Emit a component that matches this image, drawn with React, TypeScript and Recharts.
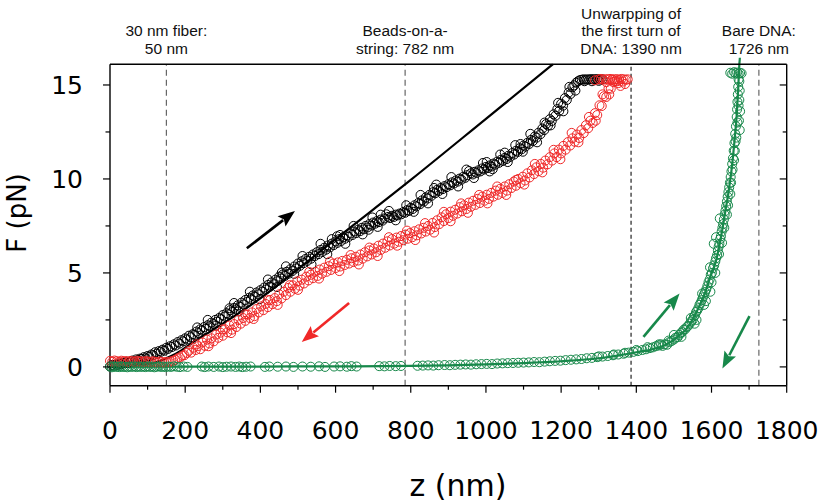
import React from 'react';
import { ComposedChart, Scatter, Line, XAxis, YAxis, ReferenceLine } from 'recharts';

// ---------- data ----------
const xTicks = [0, 100, 200, 300, 400, 500, 600, 700, 800, 900, 1000, 1100, 1200, 1300, 1400, 1500, 1600, 1700, 1800];
const yTicks = [0, 2.5, 5, 7.5, 10, 12.5, 15];

// extension (black circles)
const blackPts: [number, number][] = [
  [0,0.02],[5,0.1],[10,0.06],[15,0.12],[20,0.1],[25,0.18],[30,0.14],[35,0.22],[40,0.2],[45,0.28],[50,0.22],[55,0.3],[60,0.34],[65,0.28],[70,0.4],[75,0.36],[80,0.44],[85,0.42],[90,0.52],[95,0.46],
  [100,0.58],[105,0.54],[110,0.66],[115,0.62],[120,0.78],[125,0.7],[130,0.84],[135,0.8],[140,0.92],[145,0.86],[150,1.02],[155,0.96],[160,1.1],[165,1.06],[170,1.2],[175,1.14],[180,1.32],[185,1.24],[190,1.42],[195,1.36],
  [200,1.52],[205,1.46],[210,1.66],[215,1.58],[220,1.74],[225,1.7],[230,1.88],[232,2.1],[235,1.8],[240,2.0],[245,1.94],[250,2.12],[255,2.02],[260,2.22],[265,2.16],[270,2.36],[275,2.28],[280,2.5],[285,2.4],[290,2.6],[295,2.54],
  [300,2.76],[305,2.68],[310,2.86],[315,2.8],[318,3.12],[320,3.02],[325,2.92],[330,3.14],[335,3.06],[340,3.28],[345,3.2],[350,3.42],[355,3.32],[360,3.56],[365,3.46],[370,3.68],[375,3.6],[380,3.8],[385,3.74],[390,3.96],[395,3.86],
  [400,4.08],[405,4.0],[410,4.22],[415,4.12],[420,4.36],[425,4.26],[430,4.5],[435,4.4],[440,4.64],[445,4.56],[450,4.8],[455,4.7],[457,5.02],[460,4.92],[465,4.84],[470,5.06],[475,4.96],[480,5.2],[485,5.1],[490,5.34],[495,5.24],
  [500,5.5],[505,5.38],[510,5.62],[515,5.52],[520,5.74],[525,5.64],[530,5.86],[535,5.76],[540,5.98],[545,5.9],[550,6.1],[555,6.0],[560,6.22],[565,6.12],[570,6.34],[575,6.24],[580,6.46],[585,6.36],[590,6.56],[595,6.48],
  [600,6.68],[605,6.6],[610,6.8],[612,7.02],[615,6.7],[620,6.9],[625,6.82],[630,7.0],[635,6.92],[640,7.1],[645,7.02],[650,7.2],[655,7.12],[660,7.3],[665,7.22],[670,7.4],[675,7.32],[680,7.5],[685,7.42],[688,7.3],[690,7.6],[695,7.52],
  [700,7.68],[705,7.62],[710,7.76],[715,7.7],[720,7.84],[725,7.78],[730,7.9],[735,8.12],[740,7.98],[745,7.92],[750,8.04],[755,7.98],[760,8.1],[765,8.06],[770,8.16],[775,8.12],[780,8.24],[785,8.2],[790,8.34],[795,8.3],
  [800,8.46],[805,8.4],[810,8.6],[815,8.54],[820,8.72],[825,8.66],[830,8.86],[835,8.8],[840,9.02],[845,8.96],[850,9.16],[855,9.1],[860,9.3],[862,9.52],[865,9.24],[870,9.42],[875,9.36],[880,9.52],[885,9.46],[890,9.62],[895,9.56],
  [900,9.72],[905,9.66],[910,9.82],[915,9.76],[920,9.92],[925,9.86],[930,10.02],[935,9.96],[940,10.12],[945,10.06],[950,10.2],[955,10.42],[960,10.3],[965,10.24],[970,10.38],[975,10.32],[980,10.46],[985,10.4],[990,10.56],[995,10.5],
  [1000,10.64],[1005,10.58],[1010,10.72],[1015,10.66],[1018,10.52],[1020,10.82],[1025,10.76],[1030,10.92],[1035,10.86],[1040,11.02],[1045,10.96],[1050,11.12],[1055,11.06],[1060,11.24],[1065,11.18],[1070,11.38],[1075,11.3],[1080,11.5],[1085,11.44],[1090,11.64],[1092,11.86],[1095,11.58],
  [1100,11.78],[1105,11.72],[1110,11.92],[1115,11.86],[1120,12.08],[1125,12.02],[1130,12.26],[1135,12.2],[1140,12.46],[1145,12.38],[1150,12.68],[1155,12.6],[1160,12.92],[1165,12.84],[1170,13.18],[1175,13.08],[1180,13.44],[1185,13.36],[1190,13.72],[1195,13.62],
  [1200,14.0],[1205,13.9],[1210,14.3],[1215,14.2],[1220,14.6],[1225,14.52],[1230,14.88],[1235,14.98],[1240,15.12],[1245,15.2],[1250,15.26],[1255,15.28],[1260,15.3],[1265,15.28],[1270,15.3],[1275,15.29],[1280,15.31],[1285,15.3],[1290,15.3],[1295,15.31],[1300,15.3],[1305,15.3],[1310,15.3],
  // scattered readings off the main band
  [260,2.5],[282,2.2],[330,3.4],[342,2.95],[372,4.0],[398,3.6],[420,4.65],[444,4.25],[468,5.35],[490,4.95],[512,5.9],[536,5.45],[560,6.55],[578,6.0],[604,6.95],[626,6.55],
  [648,7.5],[672,7.05],[698,7.95],[712,7.45],[742,8.3],[760,7.8],[788,8.6],[808,8.25],[826,9.15],[846,8.7],[868,9.7],[884,9.2],[908,10.1],[926,9.6],[948,10.5],[968,10.05],
  [992,10.85],[1010,10.4],[1038,11.3],[1058,10.9],[1078,11.8],[1098,11.45],[1118,12.4],[1136,11.95],[1156,13.0],[1172,12.85],[1192,14.05],[1206,13.6],[1222,14.9],[1238,14.7],
  [1262,15.2],[1282,15.2],[1300,15.22],[590,6.8],[720,8.1],[1002,10.9],[1050,11.4],
];

// retraction (red circles)
const redPts: [number, number][] = [
  [0,0.32],[6,0.28],[12,0.34],[18,0.3],[24,0.27],[30,0.33],[36,0.29],[42,0.31],[48,0.26],[54,0.32],[60,0.3],[66,0.27],[72,0.33],[78,0.28],[84,0.3],[90,0.26],[96,0.31],[102,0.28],[108,0.25],[114,0.3],
  [120,0.27],[126,0.24],[132,0.29],[138,0.26],[144,0.23],[150,0.27],[156,0.25],[162,0.29],[168,0.33],[174,0.38],[180,0.46],[186,0.5],[192,0.6],[198,0.62],[204,0.74],
  [210,0.86],[216,0.76],[222,1.02],[228,0.9],[234,1.1],[240,0.94],[246,1.3],[252,1.12],[258,1.45],[264,1.25],[270,1.52],[276,1.36],[282,1.72],[288,1.55],[294,1.82],[300,1.66],
  [306,2.0],[312,1.84],[318,2.2],[324,1.98],[330,2.28],[336,2.12],[342,2.5],[348,2.3],[354,2.6],[360,2.45],[366,2.78],[372,2.6],[378,2.9],[384,2.7],[390,3.08],[396,2.9],
  [402,3.22],[408,3.02],[414,3.35],[420,3.18],[426,3.56],[432,3.34],[438,3.66],[444,3.5],[450,3.86],[456,3.64],[462,4.0],[468,3.82],[474,4.2],[480,4.0],[486,4.34],[492,4.16],[498,4.55],
  [504,4.32],[510,4.64],[516,4.44],[522,4.8],[528,4.6],[534,4.9],[540,4.72],[546,5.06],[552,4.84],[558,5.18],[564,4.96],[570,5.28],[576,5.06],[582,5.36],[588,5.16],[594,5.5],[600,5.26],
  [606,5.56],[612,5.34],[618,5.64],[624,5.42],[630,5.7],[636,5.5],[642,5.78],[648,5.58],[654,5.86],[660,5.66],[666,5.98],[672,5.76],[678,6.1],[684,5.88],[690,6.2],[696,5.98],
  [702,6.3],[708,6.1],[714,6.45],[720,6.22],[726,6.56],[732,6.34],[738,6.68],[744,6.46],[750,6.8],[756,6.56],[762,6.88],[768,6.66],[774,6.96],[780,6.74],[786,7.04],[792,6.82],[798,7.12],
  [804,6.9],[810,7.22],[816,7.0],[822,7.32],[828,7.1],[834,7.4],[840,7.2],[846,7.5],[852,7.3],[858,7.66],[864,7.44],[870,7.8],[876,7.6],[882,7.96],[888,7.76],[894,8.12],[900,7.92],
  [906,8.26],[912,8.04],[918,8.36],[924,8.16],[930,8.5],[936,8.28],[942,8.6],[948,8.4],[954,8.74],[960,8.52],[966,8.84],[972,8.62],[978,8.94],[984,8.72],[990,9.06],[996,8.84],
  [1002,9.16],[1008,8.94],[1014,9.26],[1020,9.06],[1026,9.38],[1032,9.16],[1038,9.48],[1044,9.26],[1050,9.6],[1056,9.38],[1062,9.72],[1068,9.52],[1074,9.86],[1080,9.64],[1086,10.0],[1092,9.78],[1098,10.12],
  [1104,9.92],[1110,10.3],[1116,10.08],[1122,10.46],[1128,10.26],[1134,10.62],[1140,10.42],[1146,10.8],[1152,10.6],[1158,10.98],[1164,10.78],[1170,11.16],[1176,10.98],[1182,11.36],[1188,11.16],[1194,11.56],
  [1200,11.36],[1206,11.76],[1212,11.56],[1218,11.96],[1224,11.78],[1230,12.16],[1236,11.98],[1242,12.36],[1248,12.18],[1254,12.6],[1260,12.44],[1266,12.86],[1272,12.7],[1278,13.1],[1284,12.98],[1290,13.5],[1296,13.4],
  [1302,13.92],[1308,13.88],[1314,14.4],[1320,14.36],[1326,14.82],[1332,14.8],[1338,15.16],[1344,15.2],
  [1300,15.3],[1306,15.32],[1312,15.28],[1318,15.31],[1324,15.3],[1330,15.32],[1336,15.28],[1342,15.3],[1348,15.31],[1354,15.28],[1360,15.32],[1366,15.3],[1372,15.28],[1377,15.3],
  [1352,15.1],[1358,14.95],[1364,15.18],[1370,15.05],
  // scattered readings off the main band
  [230,1.2],[262,1.1],[300,2.0],[322,1.8],[360,2.8],[382,2.55],[420,3.55],[446,3.3],[478,4.35],[500,4.1],[530,5.05],[556,4.7],[585,5.6],[610,5.1],[640,5.95],[662,5.45],
  [690,6.35],[712,5.9],[742,6.9],[764,6.45],[790,7.25],[812,6.75],[838,7.65],[862,7.15],[888,8.25],[906,7.75],[934,8.7],[952,8.2],[982,9.15],[1004,8.7],[1030,9.6],[1054,9.15],
  [1080,9.95],[1102,9.7],[1130,10.8],[1150,10.35],[1180,11.55],[1198,11.05],[1228,12.45],[1246,11.95],[1274,13.3],[1292,13.1],[1310,14.5],[1328,14.5],[1336,15.3],[1350,15.2],[1290,15.25],[1320,15.15],
];

// bare DNA (green circles)
const greenPts: [number, number][] = [
  [0,0.02],[5,-0.02],[10,0.03],[15,0.0],[20,0.02],[25,-0.01],[30,0.03],[35,0.0],[40,0.01],[46,-0.02],[52,0.02],[58,0.0],[64,0.03],[70,-0.01],[76,0.02],[82,0.0],[88,0.02],[94,-0.01],[100,0.03],[106,0.0],
  [112,0.02],[118,-0.02],[124,0.01],[130,0.03],[136,0.0],[142,0.02],[148,-0.01],[155,0.02],[162,0.0],[170,0.03],[178,0.01],[186,-0.01],[196,0.02],[206,0.0],
  [244,0.02],[252,-0.01],[262,0.02],[276,0.0],[290,0.02],[300,-0.01],[310,0.01],[322,0.02],[334,0.0],[344,0.02],[352,-0.01],[362,0.01],[374,0.02],
  [412,0.0],[424,0.02],[446,0.01],[468,0.02],[488,0.0],[512,0.02],[534,0.01],[556,0.03],[572,0.0],[596,0.02],[612,0.03],[630,0.01],[642,0.04],[656,0.02],
  [716,0.04],[730,0.03],[744,0.05],[760,0.04],[774,0.05],
  [818,0.06],[832,0.07],[846,0.08],[860,0.07],[874,0.09],[890,0.1],[904,0.09],[918,0.11],[932,0.12],[946,0.13],[960,0.12],[974,0.14],[988,0.15],
  [1002,0.16],[1016,0.15],[1030,0.18],[1044,0.19],[1058,0.2],[1072,0.21],[1086,0.22],[1100,0.23],[1114,0.24],[1128,0.26],[1142,0.25],[1156,0.28],[1170,0.3],[1184,0.32],[1198,0.33],
  [1212,0.36],[1226,0.38],[1240,0.4],[1254,0.42],[1268,0.46],[1282,0.48],[1296,0.52],[1310,0.55],[1324,0.58],[1338,0.62],[1352,0.66],[1366,0.7],[1380,0.76],[1392,0.8],
  [1404,0.84],[1416,0.9],[1426,0.94],[1436,1.0],[1444,1.04],[1452,1.1],[1460,1.14],[1466,1.2],
  [1470,1.12],[1476,1.2],[1482,1.18],[1488,1.32],[1494,1.38],[1500,1.46],[1504,1.55],[1510,1.58],[1514,1.7],[1518,1.8],[1522,1.85],[1526,1.98],[1530,2.0],[1534,2.12],[1538,2.18],
  [1542,2.3],[1546,2.42],[1550,2.5],[1553,2.68],[1556,2.75],[1559,2.92],[1562,3.0],[1565,3.12],[1568,3.3],[1571,3.4],[1574,3.55],[1577,3.7],[1580,3.85],[1583,3.98],[1586,4.12],
  [1589,4.3],[1592,4.5],[1595,4.65],[1598,4.9],[1601,5.0],[1604,5.25],[1607,5.4],[1610,5.6],[1612,5.78],[1615,5.95],[1617,6.2],[1619,6.4],[1621,6.55],[1623,6.8],[1625,6.95],
  [1627,7.2],[1629,7.4],[1631,7.6],[1633,7.85],[1635,8.1],[1637,8.3],[1639,8.55],[1641,8.8],[1643,9.05],[1645,9.3],[1647,9.55],[1649,9.8],[1651,10.1],[1653,10.4],[1655,10.8],
  [1657,11.1],[1659,11.5],[1661,11.9],[1663,12.4],[1665,12.8],[1667,13.3],[1668,13.7],[1669,14.1],[1670,14.5],[1671,14.9],[1672,15.3],
  [1606,6.55],[1596,5.3],[1612,6.9],[1622,7.9],[1641,8.1],[1650,9.2],[1660,11.0],[1664,12.0],[1597,4.0],[1580,3.3],[1560,2.5],
  [1650,15.65],[1655,15.6],[1660,15.68],[1664,15.62],[1668,15.66],[1672,15.6],[1676,15.64],[1680,15.62],[1674,15.2],[1675,14.7],[1674,14.2],[1676,13.6],[1673,13.1],[1675,12.6],
  [1500,1.7],[1520,1.6],[1545,2.6],[1555,2.3],[1575,3.9],[1585,3.5],[1600,4.5],[1610,5.0],[1620,6.0],[1628,6.6],[1634,7.4],[1644,8.6],[1652,9.8],[1656,10.5],[1662,11.5],
  [1666,12.2],[1669,13.0],[1672,13.9],[1486,1.4],[1460,1.2],[1430,1.05],[1400,0.9],[1370,0.75],[1340,0.66],[1300,0.56],
];

// fitted curves
const blackFit: [number, number][] = [
  [0,0],[50,0.04],[100,0.15],[130,0.3],[160,0.55],[190,0.88],[220,1.3],[260,1.8],[300,2.3],[350,2.95],[400,3.65],[500,5.2],[600,6.8],[800,9.95],[1000,13.2],[1178,16.1],
];
const greenFit: [number, number][] = [
  [0,0],[200,0.01],[400,0.02],[600,0.03],[800,0.05],[900,0.08],[1000,0.13],[1100,0.2],[1200,0.3],[1300,0.46],[1350,0.6],[1400,0.78],[1440,0.92],[1480,1.2],[1510,1.6],
  [1540,2.2],[1562,3.0],[1580,3.8],[1597,4.8],[1614,5.8],[1626,7.0],[1637,8.3],[1646,9.4],[1654,10.6],[1661,12.0],[1667,13.4],[1671,14.8],[1674,16.1],
];
const greenFitOverflow: [number, number][] = [[1674,16.1],[1675.5,16.45]];

// arrows [from, to]
const blackArrow: [number, number][] = [[364,6.31],[492,8.3]];
const redArrow: [number, number][] = [[636,3.4],[510,1.33]];
const greenArrowUp: [number, number][] = [[1419,1.6],[1515,3.9]];
const greenArrowDown: [number, number][] = [[1701,2.7],[1629,-0.09]];

// marker lines and annotation labels
const markerZ = [150, 785, 1386, 1726];
const markerLabels: string[][] = [
  ['30 nm fiber:', '50 nm'],
  ['Beads-on-a-', 'string: 782 nm'],
  ['Unwarpping of', 'the first turn of', 'DNA: 1390 nm'],
  ['Bare DNA:', '1726 nm'],
];
const markerColors = ['#666', '#666', '#222', '#666'];

const xTitle = 'z (nm)';
const yTitle = 'F (pN)';

// ---------- helpers ----------
const toObj = (arr: [number, number][]) => arr.map(([z, F]) => ({ z, F }));
const seg = (arr: [number, number][]) => arr.map(([x, y]) => ({ x, y }));

const BLACK = '#000000';
const RED = '#f02828';
const GREEN = '#17884a';
const TICK_FONT = 'DejaVu Sans, Liberation Sans, sans-serif';

const makeArrow = (color: string) => (props: any) => {
  const { x1, y1, x2, y2 } = props;
  const dx = x2 - x1, dy = y2 - y1;
  const len = Math.hypot(dx, dy) || 1;
  const ux = dx / len, uy = dy / len;
  const hl = 17, hw = 6.5;
  const bx = x2 - ux * hl, by = y2 - uy * hl;
  const px = -uy, py = ux;
  return (
    <g>
      <line x1={x1} y1={y1} x2={bx + ux * 2} y2={by + uy * 2} stroke={color} strokeWidth={2.6} />
      <polygon points={`${x2},${y2} ${bx + px * hw},${by + py * hw} ${bx + ux * 3},${by + uy * 3} ${bx - px * hw},${by - py * hw}`} fill={color} />
    </g>
  );
};

const BottomTick = (props: any) => {
  const { x, y, payload } = props;
  const v = payload.value;
  const major = v % 200 === 0;
  return (
    <g>
      <line x1={x} x2={x} y1={y} y2={y + (major ? 7 : 4)} stroke="#000" strokeWidth={1.2} />
      {major && (
        <text x={x} y={y + 53} textAnchor="middle" fontSize={25} fontFamily={TICK_FONT} fill="#000">{v}</text>
      )}
    </g>
  );
};
const TopTick = (props: any) => {
  const { x, y, payload } = props;
  const major = payload.value % 200 === 0;
  return <line x1={x} x2={x} y1={y} y2={y + (major ? 6 : 4)} stroke="#000" strokeWidth={1.2} />;
};
const LeftTick = (props: any) => {
  const { x, y, payload } = props;
  const v = payload.value;
  const major = v % 5 === 0;
  return (
    <g>
      <line x1={x - (major ? 7 : 4.5)} x2={x} y1={y} y2={y} stroke="#000" strokeWidth={1.2} />
      {major && (
        <text x={x - 27} y={y + 9} textAnchor="end" fontSize={25} fontFamily={TICK_FONT} fill="#000">{v}</text>
      )}
    </g>
  );
};
const RightTick = (props: any) => {
  const { x, y, payload } = props;
  const major = payload.value % 5 === 0;
  return <line x1={x} x2={x - (major ? 7 : 4)} y1={y} y2={y} stroke="#000" strokeWidth={1.2} />;
};

const annotLabel = (lines: string[]) => (props: any) => {
  const vb = props.viewBox || {};
  const cx = vb.x ?? 0;
  const top = vb.y ?? 0;
  const n = lines.length;
  return (
    <text textAnchor="middle" fontSize={15.5} fontFamily="Liberation Sans, Arial, sans-serif" fill="#111">
      {lines.map((t, i) => (
        <tspan key={i} x={cx} y={top - 10.5 - (n - 1 - i) * 17.6}>{t}</tspan>
      ))}
    </text>
  );
};

const axisLine = { stroke: '#000', strokeWidth: 1.4 };

export default function App() {
  return (
    <div style={{ position: 'absolute', left: 0, top: 0, width: 822, height: 504, background: '#fff' }}>
      <ComposedChart
        width={822}
        height={504}
        margin={{ top: 54.3, right: 25.3, bottom: 88.3, left: 80 }}
      >
        <XAxis
          xAxisId={0}
          dataKey="z"
          type="number"
          domain={[0, 1800]}
          ticks={xTicks}
          interval={0}
          height={30}
          tickSize={0}
          tickMargin={0}
          tickLine={false}
          axisLine={axisLine}
          tick={BottomTick}
          label={() => (
            <text x={458} y={496} textAnchor="middle" fontSize={30} fontFamily={TICK_FONT} fill="#000">{xTitle}</text>
          )}
        />
        <XAxis
          xAxisId="top"
          orientation="top"
          type="number"
          domain={[0, 1800]}
          allowDataOverflow
          ticks={xTicks}
          interval={0}
          height={10}
          tickSize={0}
          tickMargin={0}
          tickLine={false}
          axisLine={axisLine}
          tick={TopTick}
        />
        <YAxis
          yAxisId={0}
          dataKey="F"
          type="number"
          domain={[-1, 16.1]}
          ticks={yTicks}
          interval={0}
          width={30}
          tickSize={0}
          tickMargin={0}
          tickLine={false}
          axisLine={axisLine}
          tick={LeftTick}
          label={() => (
            <text transform="translate(26,213) rotate(-90)" textAnchor="middle" fontSize={26} fontFamily={TICK_FONT} fill="#000">{yTitle}</text>
          )}
        />
        <YAxis
          yAxisId="right"
          orientation="right"
          type="number"
          domain={[-1, 16.1]}
          allowDataOverflow
          ticks={yTicks}
          interval={0}
          width={10}
          tickSize={0}
          tickMargin={0}
          tickLine={false}
          axisLine={axisLine}
          tick={RightTick}
        />

        {markerZ.map((z, i) => (
          <ReferenceLine
            key={'m' + i}
            x={z}
            stroke={markerColors[i]}
            strokeWidth={1.2}
            strokeDasharray={i === 2 ? '4 3' : '6 4'}
            label={annotLabel(markerLabels[i])}
          />
        ))}

        <Scatter data={toObj(blackPts)} dataKey="F" fill="none" stroke={BLACK} strokeWidth={1} isAnimationActive={false} />
        <Scatter data={toObj(redPts)} dataKey="F" fill="none" stroke={RED} strokeWidth={1} isAnimationActive={false} />
        <Scatter data={toObj(greenPts)} dataKey="F" fill="none" stroke={GREEN} strokeWidth={1} isAnimationActive={false} />

        <Line data={toObj(blackFit)} dataKey="F" type="monotone" stroke={BLACK} strokeWidth={2.2} dot={false} activeDot={false} isAnimationActive={false} />
        <Line data={toObj(greenFit)} dataKey="F" type="monotone" stroke={GREEN} strokeWidth={2.2} dot={false} activeDot={false} isAnimationActive={false} />
        <ReferenceLine segment={seg(greenFitOverflow)} stroke={GREEN} strokeWidth={2.2} ifOverflow="visible" />

        <ReferenceLine segment={seg(blackArrow)} ifOverflow="visible" shape={makeArrow(BLACK)} />
        <ReferenceLine segment={seg(redArrow)} ifOverflow="visible" shape={makeArrow(RED)} />
        <ReferenceLine segment={seg(greenArrowUp)} ifOverflow="visible" shape={makeArrow(GREEN)} />
        <ReferenceLine segment={seg(greenArrowDown)} ifOverflow="visible" shape={makeArrow(GREEN)} />
      </ComposedChart>
    </div>
  );
}
